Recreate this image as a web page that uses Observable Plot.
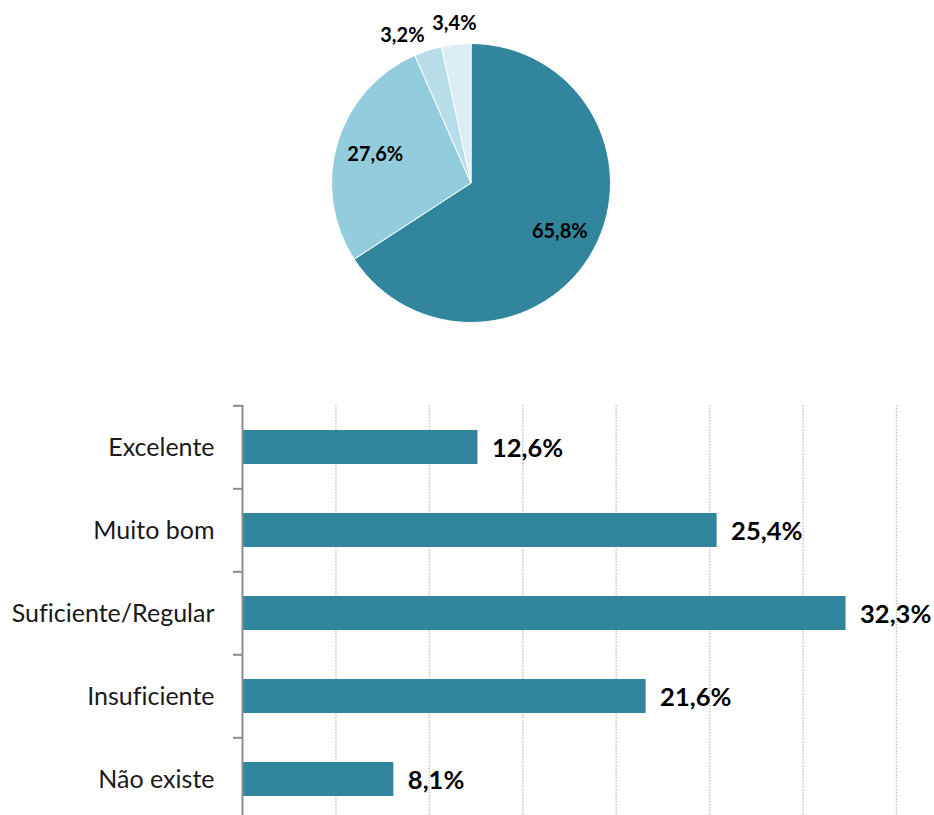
<!DOCTYPE html>
<html><head><meta charset="utf-8">
<script src="https://cdn.jsdelivr.net/npm/d3@7"></script>
<script src="https://cdn.jsdelivr.net/npm/@observablehq/plot@0.6"></script>
<style>
html,body{margin:0;padding:0;background:#fff;overflow:hidden;width:934px;height:815px}
svg{display:block;font-variant-ligatures:none}
</style></head><body>
<div id="pie"></div><div id="bars"></div>
<script>
// ---- data ----
const pieLabels = ["65,8%", "27,6%", "3,2%", "3,4%"];
const pieValues = [65.8, 27.6, 3.2, 3.4];
const pieColors = ["#31859C", "#93CDDD", "#B7DEE8", "#DAEEF3"];

const categories = ["Excelente", "Muito bom", "Suficiente/Regular", "Insuficiente", "Não existe"];
const barValues = [12.6, 25.4, 32.3, 21.6, 8.1];
const barLabels = ["12,6%", "25,4%", "32,3%", "21,6%", "8,1%"];
const xTicks = [0, 5, 10, 15, 20, 25, 30, 35];

// ---- pie ----
const arcs = d3.pie().sort(null).value(d => d)(pieValues);
const pieW = 934, pieH = 395, cxPix = 471, cyPix = 183, rPix = 139.5;
const pxPerUnit = rPix; // data unit = radius
const labelData = arcs.map((a, i) => {
  const mid = (a.startAngle + a.endAngle) / 2;
  const outside = pieValues[i] < 10;
  const rr = outside ? 1.15 : 0.72;
  return {label: pieLabels[i], x: rr * Math.sin(mid), y: rr * Math.cos(mid), outside};
});
// simple collision avoidance for outside labels (push earlier one left and down a little)
const minSep = 52 / pxPerUnit;
for (let i = labelData.length - 2; i >= 0; i--) {
  const a = labelData[i], b = labelData[i + 1];
  if (a.outside && b.outside && b.x - a.x < minSep) {
    const shift = minSep - (b.x - a.x);
    a.x -= shift;
    a.y -= shift * 0.25;
  }
}

function pieMark(index, scales) {
  const cx = scales.x(0), cy = scales.y(0), r = scales.x(1) - scales.x(0);
  const arc = d3.arc().innerRadius(0).outerRadius(r);
  const g = d3.create("svg:g").attr("transform", `translate(${cx},${cy})`);
  g.selectAll("path").data(arcs).join("path")
    .attr("d", arc)
    .attr("fill", (d, i) => pieColors[i])
    .attr("stroke", "#fff")
    .attr("stroke-width", 1);
  return g.node();
}

const pie = Plot.plot({
  width: pieW, height: pieH,
  marginLeft: cxPix - rPix, marginRight: pieW - (cxPix + rPix),
  marginTop: cyPix - rPix, marginBottom: pieH - (cyPix + rPix),
  x: {domain: [-1, 1], axis: null},
  y: {domain: [-1, 1], axis: null},
  style: {fontFamily: "Lato, sans-serif", background: "#fff"},
  marks: [
    pieMark,
    Plot.text(labelData, {x: "x", y: "y", text: "label", fontSize: 20, fontWeight: "bold", fill: "#000"})
  ]
});
document.getElementById("pie").appendChild(pie);

// ---- bars ----
const rows = categories.map((c, i) => ({category: c, value: barValues[i], label: barLabels[i]}));
const barsH = 427, barsTop = 10;
const step = (barsH - barsTop) / categories.length;

const bars = Plot.plot({
  width: 934, height: barsH,
  marginTop: barsTop, marginBottom: 0, marginLeft: 242, marginRight: 38,
  x: {domain: [0, 35], axis: null},
  y: {domain: categories, paddingInner: 0.59, paddingOuter: 0.295, tickSize: 0, tickPadding: 28, label: null},
  style: {fontFamily: "Lato, sans-serif", fontSize: "25px", color: "#1a1a1a", background: "#fff"},
  marks: [
    Plot.ruleX(xTicks.filter(t => t > 0), {stroke: "#C4C4C4", strokeWidth: 1.5, strokeDasharray: "1.5,1.5"}),
    Plot.barX(rows, {x: "value", y: "category", fill: "#31859C"}),
    Plot.text(rows, {x: "value", y: "category", text: "label", textAnchor: "start", dx: 14, dy: 1, fontSize: 25.5, fontWeight: "bold", fill: "#000"}),
    Plot.ruleY(categories, {y: d => d, x1: -0.48, x2: 0, dy: -step / 2, stroke: "#8C8C8C", strokeWidth: 2}),
    Plot.ruleX([0], {stroke: "#8C8C8C", strokeWidth: 2})
  ]
});
document.getElementById("bars").appendChild(bars);
</script>
</body></html>
